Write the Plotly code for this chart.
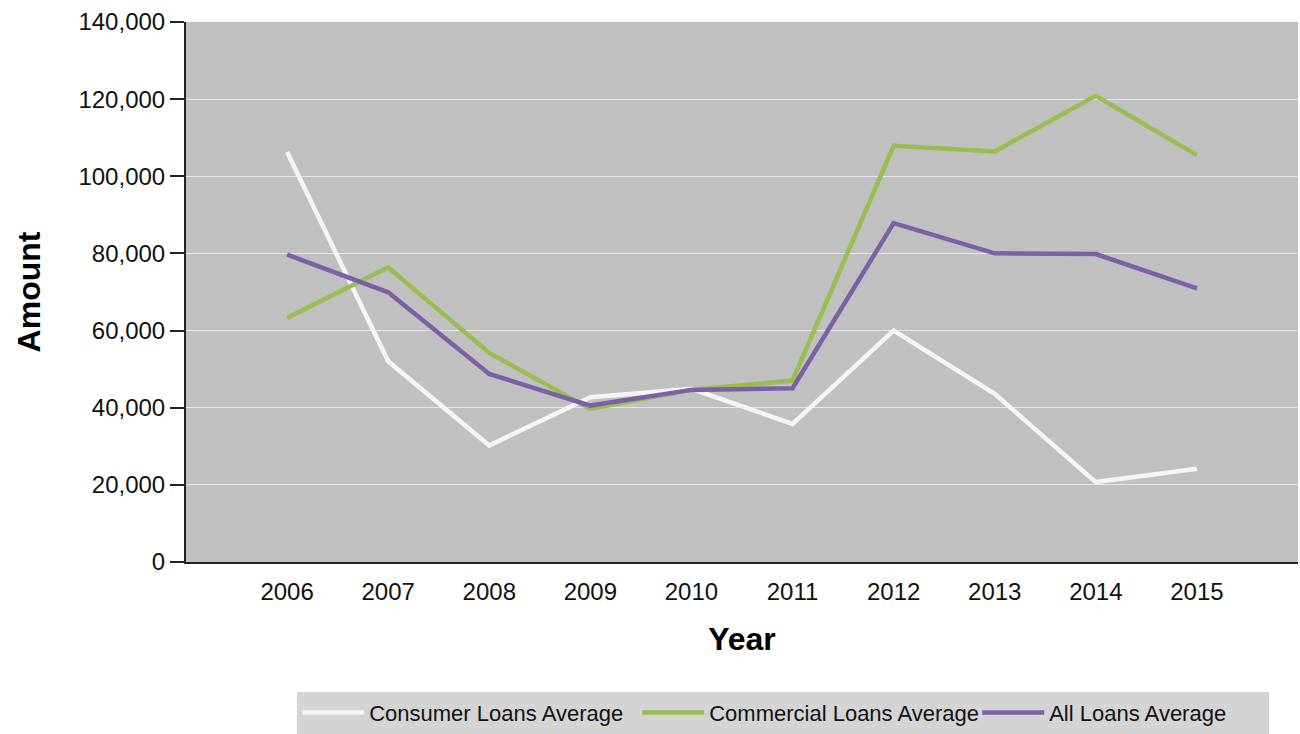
import plotly.graph_objects as go

years = [2006, 2007, 2008, 2009, 2010, 2011, 2012, 2013, 2014, 2015]
consumer_avg = [106300, 52050, 30200, 42730, 44880, 35820, 59980, 43590, 20720, 24160]
commercial_avg = [63270, 76400, 54200, 39700, 44620, 47030, 107900, 106440, 120840, 105480]
all_avg = [79700, 69920, 48760, 40550, 44620, 45060, 87870, 80020, 79840, 70960]

series_names = ["Consumer Loans Average", "Commercial Loans Average", "All Loans Average"]
series_colors = ["#f5f5f5", "#96be50", "#7d5fa5"]
series_values = [consumer_avg, commercial_avg, all_avg]
legend_widths = [263, 263, 215]

fig = go.Figure()
for name, color, vals, lw in zip(series_names, series_colors, series_values, legend_widths):
    fig.add_trace(go.Scatter(x=years, y=vals, mode="lines", name=name,
                             legendwidth=lw,
                             line=dict(color=color, width=4.5)))

font_family = "Liberation Sans, Arial, sans-serif"

fig.update_layout(
    width=1300, height=734,
    margin=dict(l=186, r=2, t=22, b=171),
    paper_bgcolor="white",
    plot_bgcolor="#c0c0c0",
    font=dict(family=font_family, size=24, color="#111111"),
    showlegend=True,
    legend=dict(
        orientation="h",
        x=0.1, xanchor="left",
        y=-0.238, yanchor="top",
        bgcolor="#d4d4d4",
        font=dict(size=22, color="#111111"),
        itemwidth=62,
        tracegroupgap=0,
    ),
    xaxis=dict(
        range=[2005, 2016],
        tickvals=years,
        ticktext=[str(y) for y in years],
        showgrid=False,
        zeroline=False,
        showline=True, linecolor="#222222", linewidth=2,
        ticks="",
        ticklabelstandoff=7,
        tickfont=dict(size=24),
        title=dict(text="<b>Year</b>", font=dict(size=32, color="#000000"), standoff=24),
    ),
    yaxis=dict(
        range=[0, 140000],
        tickvals=[0, 20000, 40000, 60000, 80000, 100000, 120000, 140000],
        tickformat=",d",
        showgrid=True, gridcolor="#e6e6e6", gridwidth=1,
        zeroline=False,
        showline=True, linecolor="#222222", linewidth=2,
        ticks="outside", ticklen=14, tickcolor="#222222", tickwidth=2,
        tickfont=dict(size=24),
        title=dict(text="<b>Amount</b>", font=dict(size=32, color="#000000"), standoff=28),
    ),
)

fig.write_html("out.html",
               config={"displayModeBar": False},
               post_script="document.body.style.margin='0';document.body.style.overflow='hidden';")
